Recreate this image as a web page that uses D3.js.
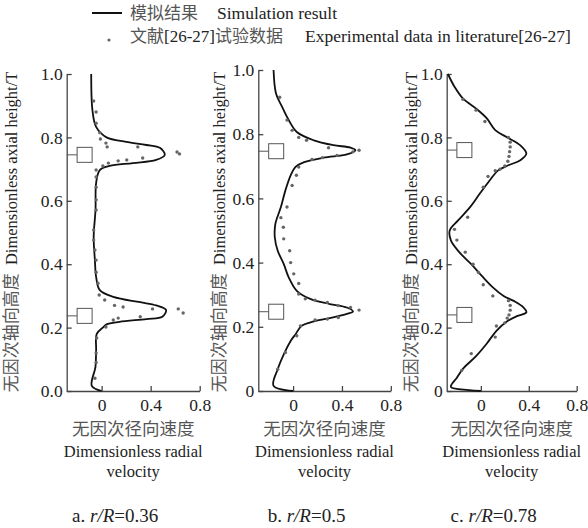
<!DOCTYPE html>
<html>
<head>
<meta charset="utf-8">
<script src="https://cdn.jsdelivr.net/npm/d3@7"></script>
<style>
  body { margin: 0; background: #fff; }
  text { font-family: "Liberation Serif", "Noto Sans CJK SC", serif; fill: #222; }
</style>
</head>
<body>
<script>
// simulated radial velocity [velocity, height] for each r/R
const simA = [[-0.085,1.0],[-0.075,0.886],[-0.045,0.833],[0.04,0.80],[0.2,0.786],[0.365,0.776],[0.475,0.767],[0.515,0.745],[0.445,0.729],[0.255,0.719],[0.065,0.71],[-0.015,0.697],[-0.045,0.656],[-0.05,0.571],[-0.065,0.486],[-0.055,0.413],[-0.045,0.36],[-0.015,0.318],[0.095,0.297],[0.315,0.28],[0.445,0.27],[0.525,0.256],[0.495,0.234],[0.365,0.227],[0.145,0.218],[0.04,0.21],[0.01,0.2],[-0.04,0.18],[-0.045,0.13],[-0.05,0.077],[-0.08,0.016],[0,0]];
const simB = [[-0.16,1.0],[-0.14,0.927],[-0.09,0.885],[-0.036,0.844],[0.03,0.807],[0.17,0.781],[0.33,0.766],[0.47,0.758],[0.51,0.75],[0.44,0.737],[0.25,0.727],[0.09,0.713],[0.02,0.698],[-0.02,0.672],[-0.063,0.625],[-0.10,0.573],[-0.145,0.521],[-0.15,0.479],[-0.126,0.437],[-0.077,0.396],[-0.036,0.354],[0.03,0.312],[0.14,0.287],[0.30,0.271],[0.44,0.26],[0.49,0.248],[0.44,0.24],[0.30,0.227],[0.17,0.217],[0.07,0.203],[0.02,0.177],[-0.02,0.156],[-0.063,0.125],[-0.126,0.068],[-0.16,0.016],[0,0]];
const simC = [[-0.275,1.0],[-0.22,0.96],[-0.15,0.923],[-0.036,0.89],[0.05,0.86],[0.12,0.823],[0.22,0.80],[0.33,0.775],[0.38,0.749],[0.33,0.728],[0.23,0.712],[0.145,0.696],[0.075,0.665],[-0.01,0.622],[-0.09,0.58],[-0.19,0.538],[-0.26,0.506],[-0.25,0.475],[-0.18,0.438],[-0.08,0.40],[0.006,0.364],[0.10,0.327],[0.19,0.30],[0.27,0.285],[0.355,0.264],[0.38,0.248],[0.30,0.236],[0.22,0.22],[0.13,0.19],[0.05,0.15],[-0.04,0.11],[-0.15,0.07],[-0.2,0.042],[-0.25,0.013],[-0.1,0.003],[0,0]];

// experimental data from literature [26-27]
const expA = [[-0.065,0.915],[-0.045,0.88],[-0.045,0.845],[-0.015,0.815],[-0.01,0.795],[0.035,0.782],[0.045,0.77],[0.295,0.77],[0.615,0.754],[0.635,0.748],[0.335,0.735],[0.205,0.729],[0.135,0.726],[0.055,0.719],[0.01,0.71],[-0.045,0.697],[-0.045,0.675],[-0.045,0.643],[-0.045,0.603],[-0.045,0.571],[-0.065,0.508],[-0.065,0.476],[-0.055,0.445],[-0.045,0.413],[-0.045,0.375],[-0.03,0.34],[-0.02,0.303],[0.025,0.287],[0.105,0.27],[0.175,0.265],[0.415,0.259],[0.625,0.259],[0.665,0.246],[0.315,0.234],[0.135,0.23],[0.095,0.224],[0.035,0.202],[-0.04,0.167],[-0.045,0.12],[-0.045,0.09],[-0.055,0.04]];
const expB = [[-0.11,0.915],[-0.05,0.844],[-0.008,0.812],[0.046,0.79],[0.11,0.781],[0.29,0.758],[0.49,0.745],[0.54,0.75],[0.36,0.734],[0.24,0.727],[0.155,0.721],[0.046,0.698],[0.027,0.672],[-0.008,0.64],[-0.05,0.573],[-0.10,0.54],[-0.08,0.51],[-0.077,0.474],[-0.028,0.437],[-0.02,0.40],[0.005,0.365],[0.046,0.335],[0.046,0.302],[0.10,0.287],[0.18,0.283],[0.28,0.276],[0.37,0.266],[0.47,0.26],[0.54,0.252],[0.37,0.229],[0.28,0.224],[0.18,0.221],[0.06,0.203],[0.03,0.172],[-0.063,0.12],[-0.126,0.068]];
const expC = [[-0.15,0.92],[-0.04,0.886],[0.034,0.85],[0.23,0.80],[0.245,0.785],[0.245,0.77],[0.24,0.755],[0.235,0.74],[0.225,0.725],[0.20,0.71],[0.16,0.70],[0.12,0.695],[0.06,0.677],[0.02,0.643],[-0.11,0.548],[-0.22,0.51],[-0.2,0.476],[-0.13,0.438],[-0.065,0.40],[-0.02,0.374],[0.02,0.335],[0.10,0.30],[0.23,0.285],[0.245,0.27],[0.245,0.255],[0.235,0.24],[0.22,0.23],[0.20,0.215],[0.13,0.205],[0.12,0.17],[-0.08,0.118],[-0.16,0.065]];

// impeller blade heights (squares)
const bladeA = [0.745, 0.237];
const bladeB = [0.747, 0.247];
const bladeC = [0.76, 0.24];

const radialTicks = [0, 0.4, 0.8];
const heightTicks = [0, 0.2, 0.4, 0.6, 0.8, 1.0];
const zeroLabels = ["0.0", "0", "0"];
const captionLetters = ["a. ", "b. ", "c. "];
const captionValues = ["=0.36", "=0.5", "=0.78"];
const xLabelLines = ["无因次径向速度", "Dimensionless radial", "velocity"];
const yLabelCn = "无因次轴向高度";
const yLabelEn = "Dimensionless axial height/T";
const legendSim = ["模拟结果", "Simulation result"];
const legendExp = ["文献[26-27]试验数据", "Experimental data in literature[26-27]"];

const serif = "'Liberation Serif', 'Noto Sans CJK SC', serif";

const svg = d3.select("body").append("svg")
  .attr("width", 588)
  .attr("height", 528);

// chinese characters a bit bigger and greyer than latin ones
function addText(sel, str, size, cjkSize) {
  const runs = str.match(/[\u3000-\u9fff]+|[^\u3000-\u9fff]+/g);
  runs.forEach(r => {
    const cjk = /[\u3000-\u9fff]/.test(r);
    sel.append("tspan")
      .style("font-size", (cjk ? cjkSize : size) + "px")
      .style("fill", cjk ? "#555" : "#222")
      .text(r);
  });
  return sel;
}

// legend
svg.append("line")
  .attr("x1", 92).attr("x2", 122)
  .attr("y1", 13).attr("y2", 13)
  .attr("stroke", "#111").attr("stroke-width", 2);
addText(svg.append("text").attr("x", 130).attr("y", 19), legendSim[0], 17.5, 17);
addText(svg.append("text").attr("x", 217).attr("y", 19), legendSim[1], 17.5, 17);
svg.append("circle").attr("cx", 109).attr("cy", 40).attr("r", 1.6).attr("fill", "#666");
addText(svg.append("text").attr("x", 130).attr("y", 42), legendExp[0], 17, 17);
addText(svg.append("text").attr("x", 305).attr("y", 42), legendExp[1], 17.5, 17);

const panels = [
  {left: 66.7, width: 133, top: 74, sim: simA, exp: expA, blade: bladeA, ylab: 17},
  {left: 258.3, width: 132.5, top: 70, sim: simB, exp: expB, blade: bladeB, ylab: 225},
  {left: 446.7, width: 130, top: 74, sim: simC, exp: expC, blade: bladeC, ylab: 417}
];
const bottom = 391;

panels.forEach((p, i) => {
  const x = d3.scaleLinear().domain([-0.285, 0.8]).range([p.left, p.left + p.width]);
  const y = d3.scaleLinear().domain([0, 1]).range([bottom, p.top]);

  const gx = svg.append("g")
    .attr("transform", `translate(0,${bottom})`)
    .call(d3.axisBottom(x).tickValues(radialTicks)
      .tickSizeInner(-5).tickSizeOuter(0).tickPadding(8)
      .tickFormat(d => d === 0 ? "0" : d3.format(".1f")(d)));
  const gy = svg.append("g")
    .attr("transform", `translate(${p.left},0)`)
    .call(d3.axisLeft(y).tickValues(heightTicks)
      .tickSizeInner(-5).tickSizeOuter(0).tickPadding(4)
      .tickFormat(d => d === 0 ? zeroLabels[i] : d3.format(".1f")(d)));
  [gx, gy].forEach(g => {
    g.attr("font-family", serif).attr("font-size", 17.5);
    g.selectAll("path, line").attr("stroke", "#444").attr("stroke-width", 1.3);
    g.selectAll("text").attr("fill", "#222");
  });

  // blades
  p.blade.forEach(h => {
    svg.append("line")
      .attr("x1", p.left).attr("x2", x(-0.2))
      .attr("y1", y(h)).attr("y2", y(h))
      .attr("stroke", "#555").attr("stroke-width", 1);
    svg.append("rect")
      .attr("x", x(-0.2)).attr("y", y(h) - 7.5)
      .attr("width", 15).attr("height", 15)
      .attr("fill", "#fff").attr("stroke", "#555").attr("stroke-width", 1);
  });

  // simulation line
  const line = d3.line()
    .x(d => x(d[0]))
    .y(d => y(d[1]))
    .curve(d3.curveCatmullRom.alpha(0.5));
  svg.append("path")
    .datum(p.sim)
    .attr("d", line)
    .attr("fill", "none")
    .attr("stroke", "#111")
    .attr("stroke-width", 1.8);

  // experimental points
  svg.append("g").selectAll("circle")
    .data(p.exp)
    .enter()
    .append("circle")
    .attr("cx", d => x(d[0]))
    .attr("cy", d => y(d[1]))
    .attr("r", 1.7)
    .attr("fill", "#666");

  // y label
  const yl = svg.append("text")
    .attr("transform", `translate(${p.ylab},232) rotate(-90)`)
    .attr("text-anchor", "middle");
  addText(yl, yLabelCn + "\u00a0\u00a0" + yLabelEn, 16.5, 17);

  // x labels
  const cx = p.left + p.width / 2;
  addText(svg.append("text").attr("x", cx).attr("y", 435).attr("text-anchor", "middle"), xLabelLines[0], 16, 17.5);
  addText(svg.append("text").attr("x", cx).attr("y", 457).attr("text-anchor", "middle"), xLabelLines[1], 16.5, 17.5);
  addText(svg.append("text").attr("x", cx).attr("y", 477).attr("text-anchor", "middle"), xLabelLines[2], 16.5, 17.5);

  // caption
  const cap = svg.append("text")
    .attr("x", cx - 18).attr("y", 522)
    .attr("text-anchor", "middle")
    .style("font-size", "19px");
  cap.append("tspan").text(captionLetters[i]);
  cap.append("tspan").style("font-style", "italic").text("r/R");
  cap.append("tspan").text(captionValues[i]);
});
</script>
</body>
</html>
